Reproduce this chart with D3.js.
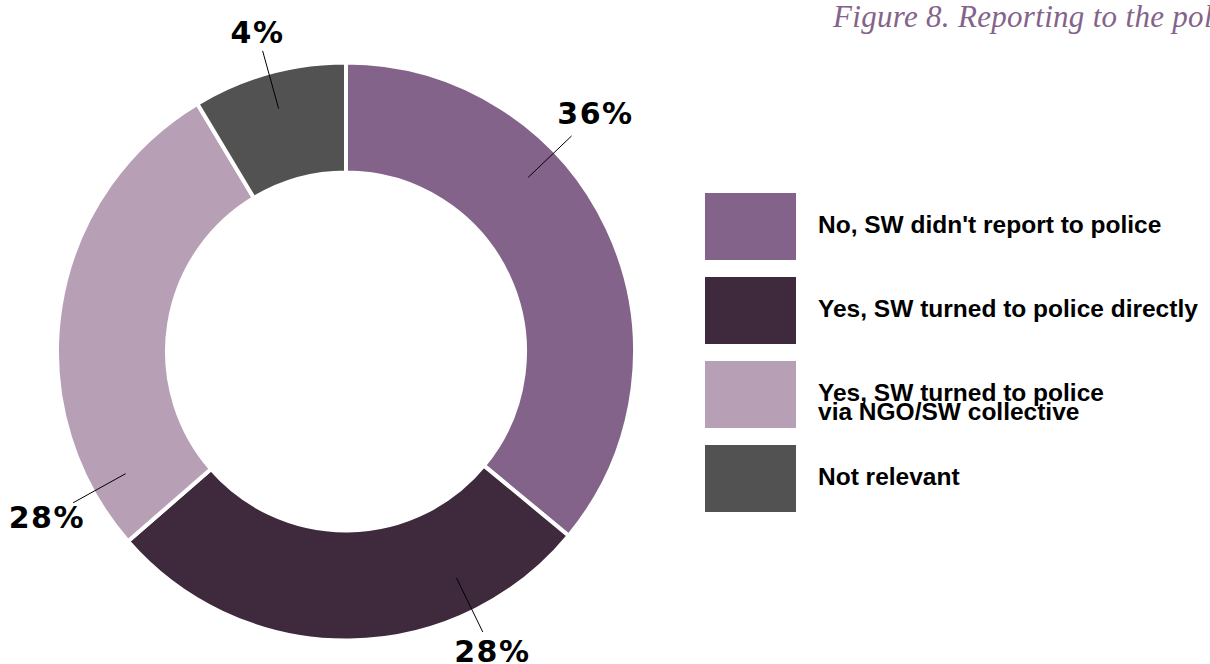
<html>
<head>
<title>Figure 8</title>
<script src="https://d3js.org/d3.v7.min.js"></script>
<style>
body { margin: 0; background: white; }
svg { display: block; }
</style>
</head>
<body>
<svg width="1210" height="664"></svg>
<script>
// slice sizes as read from the arcs, labels as printed on the chart
var categories = ["No, SW didn't report to police", "Yes, SW turned to police directly", "Yes, SW turned to police\nvia NGO/SW collective", "Not relevant"];
var values = [36, 27.6, 27.8, 8.6];
var labels = ["36%", "28%", "28%", "4%"];
var colors = ["#84638b", "#3f2a3d", "#b7a0b5", "#525252"];

// where each callout sits (degrees clockwise from top, radius of text)
var labelAngle = [46.3, 154, 241, 344.5];
var labelRadius = [345, 334, 342, 331];

var svg = d3.select("svg");
var cx = 346, cy = 351.5, R = 289, r0 = 179;

var data = categories.map(function (c, i) { return { name: c, value: values[i], label: labels[i], color: colors[i] }; });

var pie = d3.pie().sort(null).value(function (d) { return d.value; });
var arc = d3.arc().innerRadius(r0).outerRadius(R);

var g = svg.append("g").attr("transform", "translate(" + cx + "," + cy + ")");

g.selectAll("path")
  .data(pie(data))
  .enter()
  .append("path")
    .attr("d", arc)
    .attr("fill", function (d) { return d.data.color; })
    .attr("stroke", "white")
    .attr("stroke-width", 4);

function polar(deg, rad) {
  var a = deg * Math.PI / 180;
  return [rad * Math.sin(a), -rad * Math.cos(a)];
}

data.forEach(function (d, i) {
  var p1 = polar(labelAngle[i], 252), p2 = polar(labelAngle[i], 312), pt = polar(labelAngle[i], labelRadius[i]);
  g.append("line")
    .attr("x1", p1[0]).attr("y1", p1[1])
    .attr("x2", p2[0]).attr("y2", p2[1])
    .style("stroke", "black").style("stroke-width", 1);
  g.append("text")
    .attr("x", pt[0]).attr("y", pt[1])
    .attr("dy", "0.36em")
    .style("text-anchor", "middle")
    .style("font-family", "DejaVu Sans")
    .style("font-weight", "bold")
    .style("font-size", "30px")
    .style("letter-spacing", "1.5px")
    .text(d.label);
});

// legend
var legend = svg.append("g").attr("transform", "translate(705,193)");
var rows = legend.selectAll("g")
  .data(data)
  .enter()
  .append("g")
    .attr("transform", function (d, i) { return "translate(0," + (i * 84) + ")"; });

rows.append("rect")
  .attr("width", 91)
  .attr("height", 67)
  .attr("fill", function (d) { return d.color; });

rows.append("text")
  .attr("x", 113)
  .attr("y", 40)
  .style("font-family", "Liberation Sans")
  .style("font-weight", "bold")
  .style("font-size", "24.5px")
  .selectAll("tspan")
  .data(function (d) { return d.name.split("\n"); })
  .enter()
  .append("tspan")
    .attr("x", 113)
    .attr("dy", function (d, i) { return i === 0 ? 0 : 19; })
    .text(function (d) { return d; });

svg.append("text")
  .attr("x", 833)
  .attr("y", 27)
  .style("font-family", "Liberation Serif")
  .style("font-style", "italic")
  .style("font-size", "31px")
  .style("letter-spacing", "0.3px")
  .style("fill", "#84638b")
  .text("Figure 8. Reporting to the police");
</script>
</body>
</html>
